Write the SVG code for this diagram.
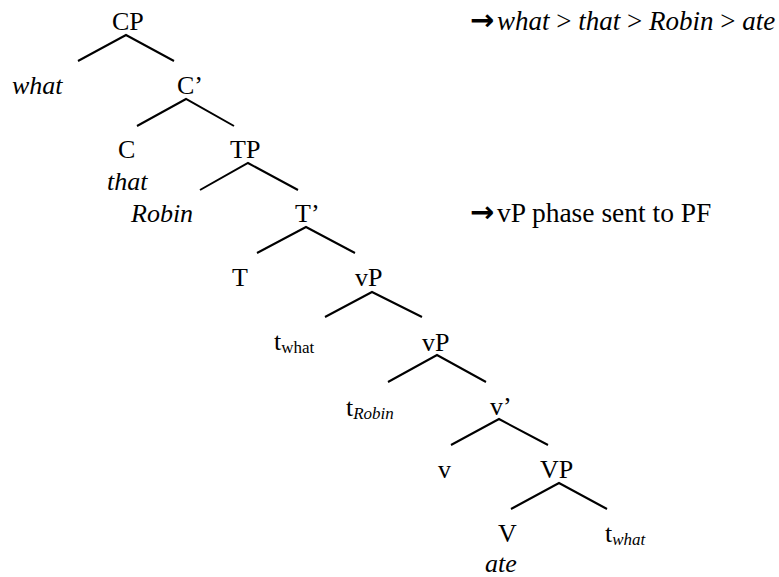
<svg xmlns="http://www.w3.org/2000/svg" width="779" height="577" viewBox="0 0 779 577">
<style>
text{font-family:"Liberation Serif","Times New Roman",serif;font-size:26px;fill:#000}
.i{font-style:italic}
.sub{font-size:17px}
.n1{font-size:27px}
.n2{font-size:27.5px}
.arr{font-family:"DejaVu Sans",sans-serif;font-size:29px;font-weight:bold}
.edge{fill:none;stroke:#000;stroke-width:2}
</style>
<rect width="779" height="577" fill="#fff"/>
<g id="connectors">
<polyline class="edge" points="78,61 126,35 174,61"/>
<polyline class="edge" points="137,126 186,99 234,126"/>
<polyline class="edge" points="200,190 248,163 298,190"/>
<polyline class="edge" points="257,253 306,227 355,253"/>
<polyline class="edge" points="325,317 372,292 422,317"/>
<polyline class="edge" points="388,382 437,355 486,382"/>
<polyline class="edge" points="451,445 499,419 548,445"/>
<polyline class="edge" points="511,509 559,483 607,509"/>
</g>
<g id="CP"><text x="112" y="30">CP</text></g>
<g id="what"><text class="i" x="12" y="94">what</text></g>
<g id="Cbar"><text x="177" y="94">C’</text></g>
<g id="C"><text x="118" y="158">C</text><text class="i" x="107" y="190">that</text></g>
<g id="TP"><text x="230" y="158">TP</text></g>
<g id="Robin"><text class="i" x="131" y="222">Robin</text></g>
<g id="Tbar"><text x="295" y="222">T’</text></g>
<g id="T"><text x="232" y="286">T</text></g>
<g id="vP1"><text x="355" y="286">vP</text></g>
<g id="t_what1"><text x="274" y="350">t<tspan class="sub" dy="3">what</tspan></text></g>
<g id="vP2"><text x="422" y="351">vP</text></g>
<g id="t_Robin"><text x="346" y="416">t<tspan class="sub i" dy="3">Robin</tspan></text></g>
<g id="vbar"><text x="490" y="415">v’</text></g>
<g id="v"><text x="438" y="478">v</text></g>
<g id="VP"><text x="540" y="478">VP</text></g>
<g id="V"><text x="498" y="542">V</text><text class="i" x="485" y="572">ate</text></g>
<g id="t_what2"><text x="605" y="542">t<tspan class="sub i" dy="3">what</tspan></text></g>
<g id="note1">
<text class="arr" x="470" y="30">→</text>
<text class="n1" x="497" y="30"><tspan class="i">what</tspan> &gt; <tspan class="i">that</tspan> &gt; <tspan class="i">Robin</tspan> &gt; <tspan class="i">ate</tspan></text>
</g>
<g id="note2">
<text class="arr" x="470" y="222">→</text>
<text class="n2" x="497" y="222">vP phase sent to PF</text>
</g>
</svg>
